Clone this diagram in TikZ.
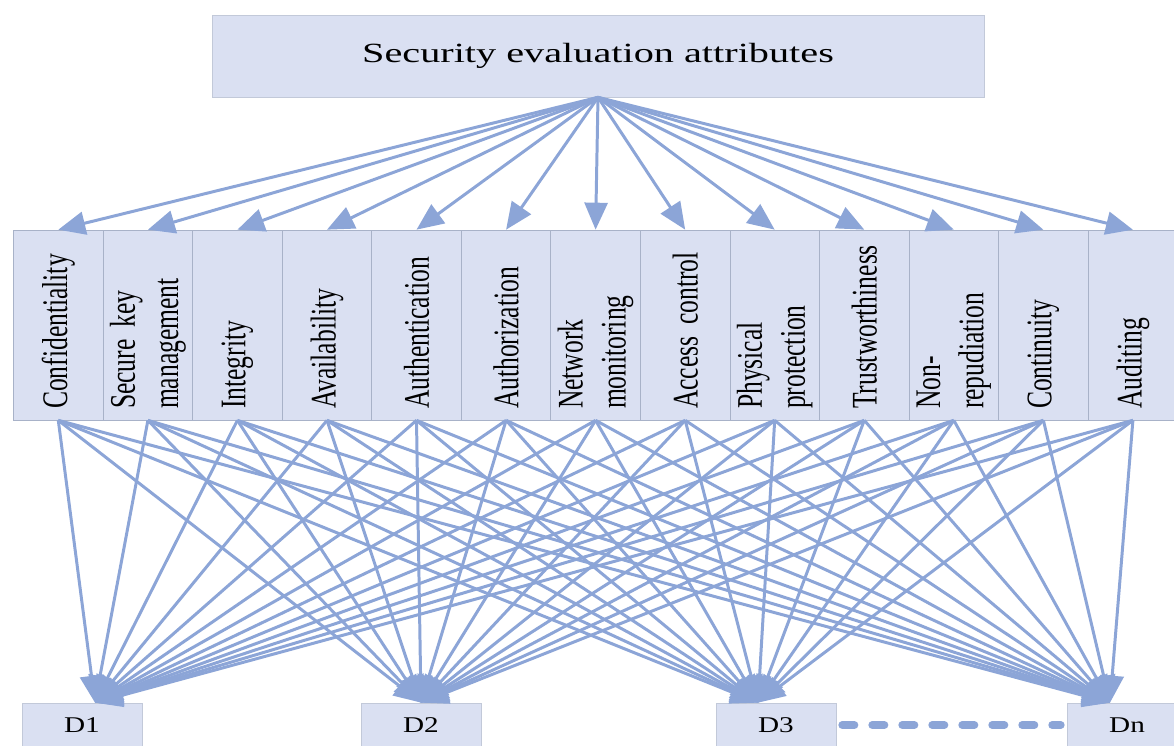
\documentclass[tikz,border=0pt]{standalone}
\usepackage{fontspec}
\setmainfont{Liberation Serif}
\newfontfamily\titrefont[FakeStretch=1.45]{Liberation Serif}
\newfontfamily\attrfont[FakeStretch=0.71,WordSpace=0.5]{Liberation Serif}
\newfontfamily\dfont[FakeStretch=1.3]{Liberation Serif}
\usetikzlibrary{arrows.meta}
\usetikzlibrary{calc}
\definecolor{fondbleu}{RGB}{218,224,242}
\definecolor{bordbleu}{RGB}{168,178,200}
\definecolor{flechebleu}{RGB}{140,165,215}
\tikzstyle{titre}=[
        draw=bordbleu!70,
        fill=fondbleu,
        minimum width=15.44cm,
        minimum height=1.64cm,
        font=\titrefont\fontsize{15.8}{18}\selectfont
]
\tikzstyle{attribut}=[
        draw=bordbleu,
        fill=fondbleu,
        rotate=90,
        minimum width=3.8cm,
        minimum height=1.791cm,
        text width=3.36cm,
        inner xsep=0.22cm,
        inner ysep=0pt,
        align=left,
        font=\attrfont\fontsize{20.5}{24.5}\selectfont
]
\tikzstyle{decision}=[draw=bordbleu!70,fill=fondbleu,minimum width=2.4cm,minimum height=0.88cm,font=\dfont\fontsize{12.8}{15}\selectfont]
\tikzstyle{fleche}=[draw=flechebleu,line width=1.7pt,-{Triangle[length=0.54cm,width=0.46cm]}]
\tikzstyle{pointille}=[draw=flechebleu,line width=0.16cm,line cap=round,dash pattern=on 0.24cm off 0.36cm,shorten <=0.12cm,shorten >=0.12cm]

\begin{document}
\begin{tikzpicture}[x=0.02cm,y=-0.02cm]
\useasboundingbox (0,0) rectangle (1174,745);
\node[titre] (attributs) at (598,56) {Security evaluation attributes};
\node[attribut] (a1) at (58.3,325) {Confidentiality};
\node[attribut] (a2) at (147.9,325) {Secure key\\management};
\node[attribut] (a3) at (237.4,325) {Integrity};
\node[attribut] (a4) at (327.0,325) {Availability};
\node[attribut] (a5) at (416.5,325) {Authentication};
\node[attribut] (a6) at (506.1,325) {Authorization};
\node[attribut] (a7) at (595.6,325) {Network\\monitoring};
\node[attribut] (a8) at (685.2,325) {Access control};
\node[attribut] (a9) at (774.7,325) {Physical\\protection};
\node[attribut] (a10) at (864.3,325) {Trustworthiness};
\node[attribut] (a11) at (953.8,325) {Non-\\repudiation};
\node[attribut] (a12) at (1043.4,325) {Continuity};
\node[attribut] (a13) at (1132.9,325) {Auditing};
\node[decision] (d1) at (82,725) {D1};
\node[decision] (d2) at (421,725) {D2};
\node[decision] (d3) at (776,725) {D3};
\node[decision] (dn) at (1127,725) {Dn};
%fleches
\foreach \i in {1,...,13}
  \draw[fleche] (attributs.south) -- (a\i.east);
\foreach \i in {1,...,13}
  \foreach \d/\dx in {d1/13,d2/0,d3/-18,dn/-17}
    \draw[fleche] (a\i.west) -- ($(\d.north)+(\dx,0)$);
\draw[pointille] (d3.east) -- (dn.west);
\end{tikzpicture}
\end{document}
